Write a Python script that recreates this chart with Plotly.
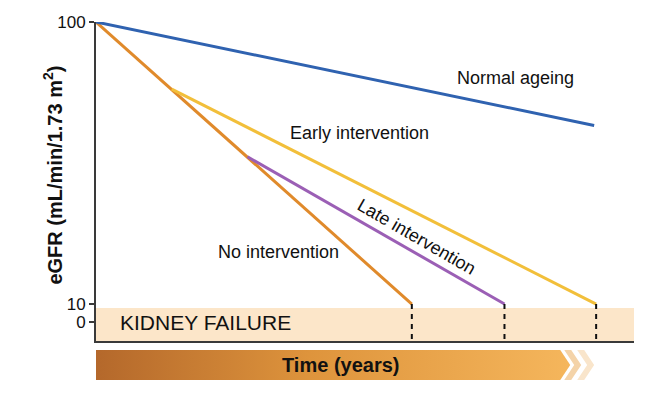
import plotly.graph_objects as go

# ---- data ----
series_names = ["Normal ageing", "Early intervention", "Late intervention", "No intervention"]
normal_x = [0, 50.0]
normal_y = [100, 67]
early_x = [7.6, 50.2]
early_y = [78.6, 10]
late_x = [15.2, 41.0]
late_y = [57.0, 10]
none_x = [0, 31.7]
none_y = [100, 10]
failure_ends_x = [31.7, 41.0, 50.2]
tick_values = [0, 10, 100]
tick_labels = ["0", "10", "100"]

FONT = "Arial, Liberation Sans, sans-serif"
Y_MIN = -1.8


def to_axis(v):
    """Broken y-axis: the 0-10 stretch is compressed."""
    return v if v >= 10 else 10 - (10 - v) * 0.5745


fig = go.Figure()

# kidney failure band
fig.add_shape(type="rect", xref="x", yref="y", x0=0, x1=54, y0=Y_MIN, y1=8.7,
              fillcolor="#FCE6C9", line=dict(width=0), layer="below")

cols = {"Normal ageing": "#2F62B0", "Early intervention": "#F2BF3A",
        "Late intervention": "#9B5FB5", "No intervention": "#E08A2B"}
for name, xs, ys in [("No intervention", none_x, none_y),
                     ("Early intervention", early_x, early_y),
                     ("Late intervention", late_x, late_y),
                     ("Normal ageing", normal_x, normal_y)]:
    fig.add_trace(go.Scatter(x=xs, y=[to_axis(v) for v in ys], mode="lines",
                             line=dict(color=cols[name], width=3), showlegend=False,
                             hoverinfo="skip"))

for xe in failure_ends_x:
    fig.add_trace(go.Scatter(x=[xe, xe], y=[to_axis(10), Y_MIN], mode="lines",
                             line=dict(color="#111", width=2, dash="5px,5px"),
                             showlegend=False, hoverinfo="skip"))

# time arrow (second y axis below)
top, bot, mid = 0.786, 0.071, 0.4285
bar_end, tip = 46.6, 47.6
fig.add_trace(go.Scatter(
    x=[0, bar_end, tip, bar_end, 0, 0], y=[top, top, mid, bot, bot, top],
    mode="lines", line=dict(width=0), fill="toself",
    fillgradient=dict(type="horizontal",
                      colorscale=[[0, "#B4682B"], [0.45, "#DE943C"], [1, "#F5B65C"]]),
    yaxis="y2", showlegend=False, hoverinfo="skip"))


def chevron(a, w, d):
    return [a, a + w, a + w + d, a + w, a, a + d, a], [top, top, mid, bot, bot, mid, top]


for a, c in [(47.0, "#F4D3A8"), (48.3, "#F9E5CB")]:
    cx, cy = chevron(a, 0.7, 1.0)
    fig.add_trace(go.Scatter(x=cx, y=cy, mode="lines", line=dict(width=0), fill="toself",
                             fillcolor=c, yaxis="y2", showlegend=False, hoverinfo="skip"))

ann = dict(font=dict(family=FONT, size=18, color="#111"), showarrow=False)
fig.add_annotation(x=42.1, y=82.1, text="Normal ageing", **ann)
fig.add_annotation(x=26.4, y=64.6, text="Early intervention", **ann)
fig.add_annotation(x=18.3, y=26.6, text="No intervention", **ann)
fig.add_annotation(x=32.2, y=31.4, text="Late intervention", textangle=30, **ann)
fig.add_annotation(x=2.2, y=to_axis(0), text="KIDNEY FAILURE", xanchor="left",
                   font=dict(family=FONT, size=21, color="#111"), showarrow=False)
fig.add_annotation(x=24.5, y=0.43, yref="y2", text="<b>Time (years)</b>",
                   font=dict(family=FONT, size=20, color="#111"), showarrow=False)
fig.add_annotation(xref="paper", yref="paper", x=-0.1078, y=0.576, textangle=-90,
                   text="<b>eGFR (mL/min/1.73 m<sup>2</sup>)</b>",
                   font=dict(family=FONT, size=20, color="#111"), showarrow=False)

fig.update_layout(
    width=659, height=403,
    margin=dict(l=96, r=25, t=22, b=20),
    paper_bgcolor="white", plot_bgcolor="white",
    xaxis=dict(range=[0, 54], showgrid=False, zeroline=False, showticklabels=False,
               ticks="", showline=True, linecolor="#3a3a3a", linewidth=2, anchor="y"),
    yaxis=dict(domain=[0.1163, 1], range=[Y_MIN, 100], showgrid=False, zeroline=False,
               tickvals=[to_axis(v) for v in tick_values], ticktext=tick_labels,
               ticks="outside", ticklen=5, tickcolor="#3a3a3a", tickwidth=1.5,
               tickfont=dict(family=FONT, size=17, color="#111"),
               showline=True, linecolor="#3a3a3a", linewidth=2),
    yaxis2=dict(domain=[0, 0.1163], range=[0, 1], visible=False, anchor="x"),
)

fig.write_html("out.html")
